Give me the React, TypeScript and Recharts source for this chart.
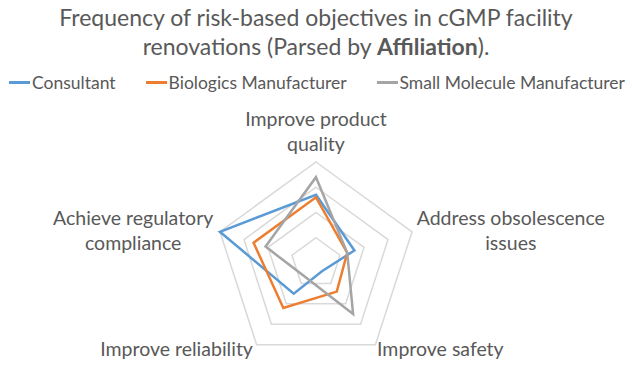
import React from 'react'
import { RadarChart, Radar, PolarGrid, PolarAngleAxis, PolarRadiusAxis, Legend } from 'recharts'

const categories = [
    'Improve product quality',
    'Address obsolescence issues',
    'Improve safety',
    'Improve reliability',
    'Achieve regulatory compliance',
]
const labelLines = [
    ['Improve product', 'quality'],
    ['Address obsolescence', 'issues'],
    ['Improve safety'],
    ['Improve reliability'],
    ['Achieve regulatory', 'compliance'],
]
const consultant = [27, 16, 4, 15, 40]
const biologics = [26, 13, 14, 22, 26]
const smallMolecule = [34, 13, 25, 7, 21]
const radiusTicks = [0, 10, 20, 30, 40]

const seriesList = [
    { key: 'consultant', name: 'Consultant', color: '#5B9BD5' },
    { key: 'biologics', name: 'Biologics Manufacturer', color: '#ED7D31' },
    { key: 'smallMolecule', name: 'Small Molecule Manufacturer', color: '#A5A5A5' },
]

const data = categories.map((c, i) => ({
    category: c,
    consultant: consultant[i],
    biologics: biologics[i],
    smallMolecule: smallMolecule[i],
}))

const FONT = 'Lato, "Open Sans", sans-serif'
const TEXT = '#595959'
const LABEL_SIZE = 19.5
const LINE_H = 25

let ctx: CanvasRenderingContext2D | null = null
function measure(s: string) {
    if (!ctx) ctx = document.createElement('canvas').getContext('2d')
    if (!ctx) return s.length * 9
    ctx.font = `${LABEL_SIZE}px Lato`
    return ctx.measureText(s).width
}

function AngleTick(props: any) {
    const { x, y, textAnchor, index } = props
    const lines = labelLines[index] || [props.payload.value]
    const w = Math.max(...lines.map(measure))
    let cxText = x
    if (textAnchor === 'start') cxText = x - 3 + w / 2
    if (textAnchor === 'end') cxText = x + 1 - w / 2
    let firstBaseline = y + 5
    if (textAnchor === 'middle') firstBaseline = y - 3 - (lines.length - 1) * LINE_H
    else if (lines.length > 1) firstBaseline = y - 4
    return (
        <text x={cxText} y={firstBaseline} textAnchor="middle" fill={TEXT} fontSize={LABEL_SIZE} fontFamily={FONT}>
            {lines.map((l, i) => (
                <tspan key={i} x={cxText} dy={i === 0 ? 0 : LINE_H}>{l}</tspan>
            ))}
        </text>
    )
}

function LegendContent() {
    return (
        <div style={{ display: 'flex', alignItems: 'center', fontFamily: FONT, fontSize: 17.5, color: TEXT }}>
            {seriesList.map((s, i) => (
                <div key={s.key} style={{ display: 'flex', alignItems: 'center', marginRight: i < 2 ? 30 : 0 }}>
                    <div style={{ width: 21, height: 2.5, background: s.color, marginRight: 2 }} />
                    <span>{s.name}</span>
                </div>
            ))}
        </div>
    )
}

export default function App() {
    return (
        <div style={{ position: 'absolute', left: 0, top: 0, width: 632, height: 366, background: '#fff' }}>
            <div
                style={{
                    position: 'absolute',
                    top: 3,
                    left: 0,
                    width: 632,
                    textAlign: 'center',
                    fontFamily: FONT,
                    fontSize: 23,
                    lineHeight: '29px',
                    color: TEXT,
                }}
            >
                Frequency of risk-based objectives in cGMP facility
                <br />
                renovations (Parsed by <b>Affiliation</b>).
            </div>
            <RadarChart
                width={632}
                height={366}
                data={data}
                cx={316}
                cy={263}
                outerRadius={101}
                startAngle={90}
                endAngle={-270}
                margin={{ top: 0, right: 0, bottom: 0, left: 0 }}
            >
                <PolarGrid gridType="polygon" radialLines={false} stroke="#d9d9d9" strokeWidth={1.5} />
                <PolarRadiusAxis domain={[0, 40]} ticks={radiusTicks as any} tickCount={5} tick={false} axisLine={false} />
                <PolarAngleAxis dataKey="category" tick={<AngleTick />} tickLine={false} axisLine={false} />
                {seriesList.map(s => (
                    <Radar
                        key={s.key}
                        dataKey={s.key}
                        name={s.name}
                        stroke={s.color}
                        strokeWidth={2.5}
                        fill="none"
                        fillOpacity={0}
                        dot={false}
                        isAnimationActive={false}
                    />
                ))}
                <Legend content={<LegendContent />} wrapperStyle={{ position: 'absolute', top: 72, left: 9, width: 'auto' }} />
            </RadarChart>
        </div>
    )
}
